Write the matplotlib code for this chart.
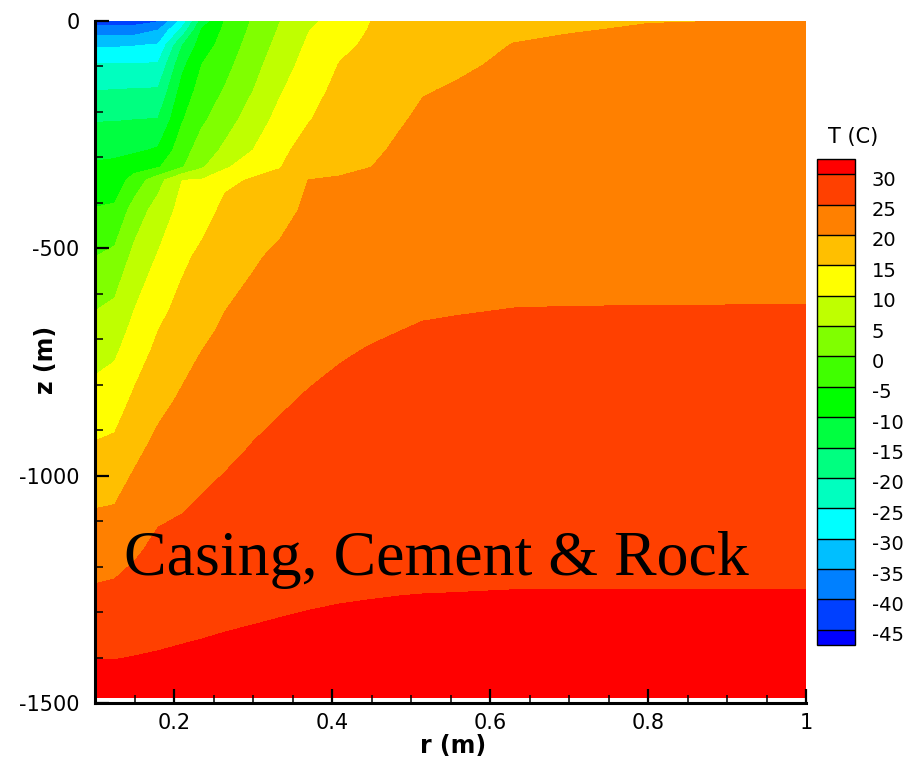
import numpy as np
import matplotlib
matplotlib.use("Agg")
import matplotlib.pyplot as plt
from matplotlib.colors import ListedColormap
from matplotlib.ticker import FixedLocator, MultipleLocator
from matplotlib.transforms import ScaledTranslation

plt.rcParams["axes.unicode_minus"] = False
plt.rcParams["font.family"] = ["DejaVu Sans"]

# ---------------- data ----------------
r_nodes = [0.100, 0.125, 0.150, 0.180, 0.210, 0.235, 0.265, 0.300, 0.335, 0.370,
           0.410, 0.450, 0.485, 0.515, 0.560, 0.630, 0.700, 0.800, 1.000]
z_nodes = [0, -20, -53, -97, -152, -218, -284, -321, -350, -416, -519,
           -636, -680, -724, -834, -944, -1073, -1163, -1251, -1317, -1405, -1487]

T_z0    = [-43.0, -42.8, -42.2, -40.5, -28.5, -13.0, -4.6, 0.5, 5.02, 8.8, 12.2, 15.03, 16.5, 17.3, 18.2, 19.0, 19.6, 19.95, 20.05]
T_z20   = [-37.5, -37.5, -37.5, -34.96, -23.7, -9.66, -3.96, 1.08, 5.6, 9.8, 12.85, 15.34, 16.79, 17.63, 18.49, 19.47, 19.92, 20.13, 20.21]
T_z53   = [-30.8, -30.7, -30.3, -29.6, -15.3, -7.65, -2.88, 2.03, 6.6, 10.7, 13.93, 15.85, 17.27, 18.18, 18.97, 20.09, 20.24, 20.39, 20.47]
T_z97   = [-24.6, -24.6, -24.5, -24.4, -11.3, -4.98, -1.45, 3.31, 7.95, 11.77, 15.22, 16.53, 17.92, 18.9, 19.62, 20.47, 20.6, 20.75, 20.82]
T_z152  = [-20.05, -19.95, -19.7, -19.55, -8.25, -3.1, 0.4, 4.91, 9.6, 13.1, 16.3, 17.38, 18.72, 19.82, 20.28, 20.93, 21.06, 21.19, 21.26]
T_z218  = [-15.3, -15.2, -14.96, -14.7, -5.4, -0.85, 2.93, 7.44, 11.66, 14.7, 17.6, 18.4, 19.69, 20.56, 20.91, 21.49, 21.6, 21.72, 21.78]
T_z284  = [-11.3, -11.0, -10.8, -9.4, -2.3, 2.3, 6.0, 10.0, 13.7, 17.3, 18.94, 19.42, 20.5, 21.22, 21.54, 22.05, 22.15, 22.25, 22.31]
T_z321  = [-9.3, -9.0, -6.9, -5.5, -0.5, 4.3, 9.13, 13.6, 14.87, 18.87, 19.68, 19.99, 20.93, 21.6, 21.9, 22.37, 22.46, 22.55, 22.6]
T_z350  = [-7.9, -7.6, -3.0, 3.2, 9.95, 10.3, 14.2, 15.34, 16.0, 20.02, 20.15, 20.37, 21.25, 21.89, 22.17, 22.61, 22.7, 22.78, 22.83]
T_z416  = [-4.7, -4.2, 2.2, 7.05, 11.5, 13.0, 16.1, 16.96, 18.7, 20.74, 20.96, 21.22, 21.99, 22.56, 22.8, 23.17, 23.25, 23.31, 23.36]
T_z519  = [0.0, 1.3, 6.4, 10.4, 13.96, 16.05, 17.9, 19.5, 20.86, 21.86, 22.2, 22.56, 23.16, 23.6, 23.79, 24.05, 24.1, 24.15, 24.18]
T_z636  = [4.9, 6.1, 10.05, 13.7, 16.5, 18.3, 19.97, 21.24, 22.26, 23.13, 23.63, 24.07, 24.47, 24.78, 24.9, 25.04, 25.07, 25.08, 25.1]
T_z680  = [6.5, 7.7, 11.35, 14.96, 17.5, 19.1, 20.6, 21.8, 22.8, 23.6, 24.17, 24.64, 24.97, 25.18, 25.28, 25.39, 25.42, 25.43, 25.45]
T_z724  = [8.1, 9.2, 12.6, 16.05, 18.4, 19.97, 21.2, 22.4, 23.3, 24.09, 24.7, 25.15, 25.35, 25.55, 25.64, 25.74, 25.77, 25.79, 25.8]
T_z834  = [11.9, 12.75, 15.85, 18.75, 20.6, 21.7, 22.8, 23.8, 24.63, 25.27, 25.8, 26.12, 26.29, 26.46, 26.53, 26.63, 26.65, 26.66, 26.68]
T_z944  = [15.7, 16.2, 19.0, 21.3, 22.5, 23.4, 24.3, 25.24, 25.9, 26.39, 26.83, 27.09, 27.24, 27.37, 27.43, 27.52, 27.54, 27.54, 27.55]
T_z1073 = [20.0, 20.3, 22.2, 24.2, 24.8, 25.5, 26.2, 26.84, 27.33, 27.71, 28.04, 28.23, 28.35, 28.44, 28.5, 28.56, 28.57, 28.58, 28.58]
T_z1163 = [22.7, 23.1, 24.4, 25.97, 26.35, 26.9, 27.4, 27.95, 28.34, 28.63, 28.88, 29.03, 29.12, 29.19, 29.23, 29.29, 29.3, 29.3, 29.3]
T_z1251 = [25.4, 25.7, 26.5, 27.6, 27.9, 28.3, 28.7, 29.04, 29.32, 29.53, 29.7, 29.81, 29.88, 29.92, 29.95, 30.0, 30.0, 30.0, 30.0]
T_z1317 = [27.4, 27.5, 28.1, 28.8, 29.05, 29.3, 29.6, 29.86, 30.06, 30.21, 30.34, 30.4, 30.46, 30.49, 30.51, 30.53, 30.53, 30.53, 30.52]
T_z1405 = [30.0, 30.0, 30.2, 30.35, 30.6, 30.75, 30.9, 30.97, 31.07, 31.14, 31.2, 31.2, 31.23, 31.25, 31.25, 31.24, 31.24, 31.24, 31.22]
T_z1487 = [32.3, 32.3, 32.2, 32.2, 32.1, 32.1, 32.1, 32.0, 32.0, 32.0, 32.0, 31.95, 31.95, 31.95, 31.93, 31.9, 31.9, 31.9, 31.9]

levels = [-45, -40, -35, -30, -25, -20, -15, -10, -5, 0, 5, 10, 15, 20, 25, 30]
band_colors = ["#0040ff", "#0080ff", "#00bfff", "#00ffff", "#00ffbf", "#00ff80",
               "#00ff40", "#00ff00", "#40ff00", "#80ff00", "#bfff00", "#ffff00",
               "#ffbf00", "#ff8000", "#ff4000"]
under_color = "#0000ff"
over_color = "#ff0000"

xtick_vals = [0.2, 0.4, 0.6, 0.8, 1.0]
xtick_labels = ["0.2", "0.4", "0.6", "0.8", "1"]
ytick_vals = [0, -500, -1000, -1500]
ytick_labels = ["0", "-500", "-1000", "-1500"]

# ---------------- figure ----------------
T = np.array([T_z0, T_z20, T_z53, T_z97, T_z152, T_z218, T_z284, T_z321, T_z350,
              T_z416, T_z519, T_z636, T_z680, T_z724, T_z834, T_z944, T_z1073,
              T_z1163, T_z1251, T_z1317, T_z1405, T_z1487])
R, Z = np.meshgrid(r_nodes, z_nodes)

cmap = ListedColormap(band_colors)
cmap.set_under(under_color)
cmap.set_over(over_color)

fig = plt.figure(figsize=(9.16, 7.69), dpi=100)
ax = fig.add_axes([95/916, 1-703/769, 711/916, 682/769])

cs = ax.contourf(R, Z, T, levels=levels, cmap=cmap, extend="both")

ax.set_xlim(0.1, 1.0)
ax.set_ylim(-1500, 0)

ax.xaxis.set_major_locator(FixedLocator(xtick_vals))
ax.set_xticklabels(xtick_labels)
ax.xaxis.set_minor_locator(MultipleLocator(0.05))
ax.yaxis.set_major_locator(FixedLocator(ytick_vals))
ax.set_yticklabels(ytick_labels)
ax.yaxis.set_minor_locator(MultipleLocator(100))

ax.tick_params(which="both", direction="in", top=False, right=False, color="black")
ax.tick_params(which="major", length=10, width=1.6, labelsize=15)
ax.tick_params(which="minor", length=5.5, width=1.1)
ax.tick_params(axis="y", which="major", pad=11)
ax.tick_params(axis="x", which="major", pad=7)

for side in ("top", "right"):
    ax.spines[side].set_visible(False)
for side in ("left", "bottom"):
    ax.spines[side].set_linewidth(2.2)
    ax.spines[side].set_zorder(5)

ax.set_xlabel("r (m)", fontsize=17, fontweight="bold")
ax.xaxis.set_label_coords((453-95)/711, (703-746)/682)
ax.xaxis.label.set_va("center")
ax.set_ylabel("z (m)", fontsize=17, fontweight="bold")
ax.yaxis.set_label_coords((46-95)/711, (703-360)/682)
ax.yaxis.label.set_va("center")

ax.text(0.532, -1218, "Casing, Cement & Rock", family=["Liberation Serif", "DejaVu Serif"],
        fontsize=46, ha="center", va="baseline", color="black")

# colorbar legend
cax = fig.add_axes([817/916, 1-645/769, 38/916, 486/769])
cb = fig.colorbar(cs, cax=cax, extendrect=True, extendfrac=1/30, drawedges=True,
                  ticks=levels)
cb.set_ticklabels([str(v) for v in levels])
cb.ax.tick_params(length=0, labelsize=14, pad=12)
shift = ScaledTranslation(0, -4/100, fig.dpi_scale_trans)
for lab in cb.ax.get_yticklabels():
    lab.set_transform(lab.get_transform() + shift)
cb.outline.set_linewidth(1.0)
cb.outline.set_edgecolor("black")
cb.dividers.set_color("black")
cb.dividers.set_linewidth(1.0)

fig.text(853/916, 1-137/769, "T (C)", ha="center", va="center", fontsize=15)

fig.savefig("out.png", dpi=100)
